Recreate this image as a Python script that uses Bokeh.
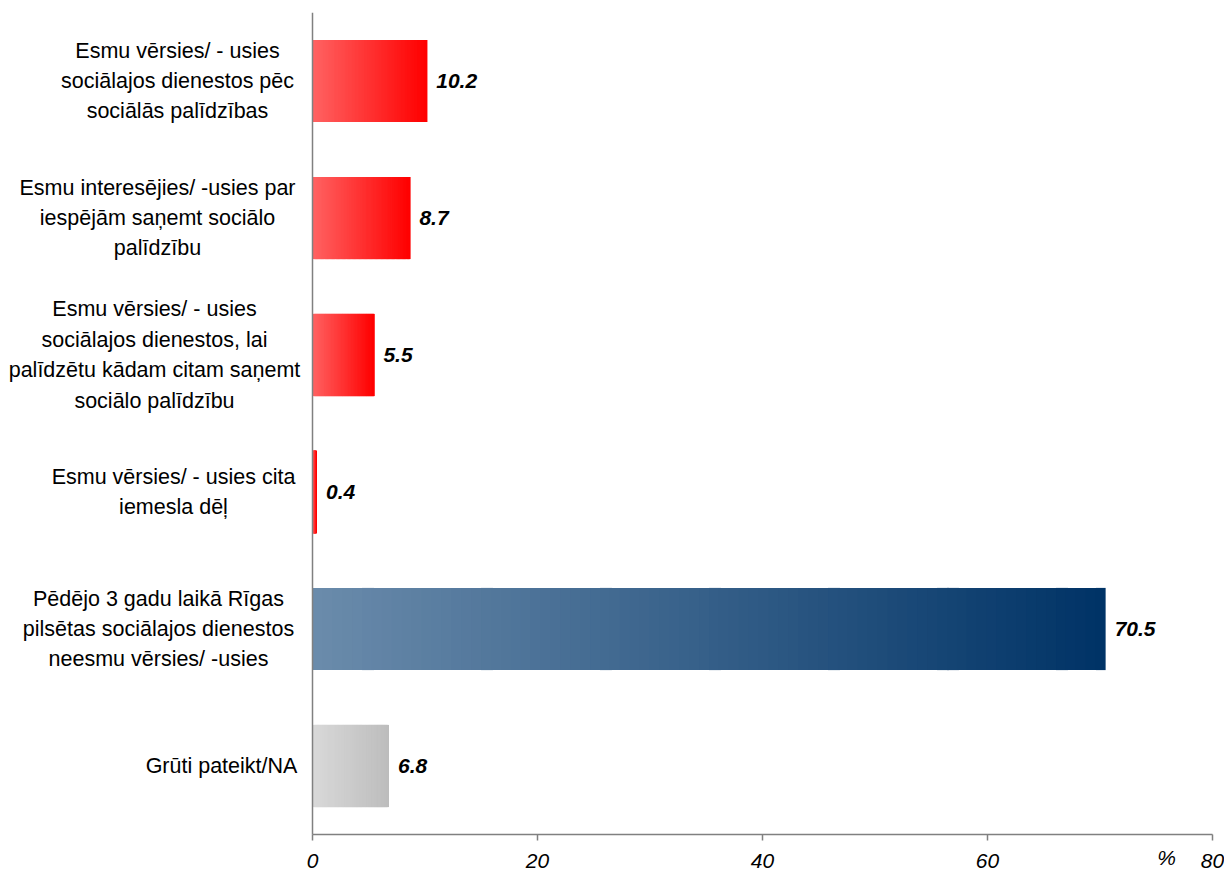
from bokeh.plotting import figure
from bokeh.models import Range1d, ColumnDataSource, FixedTicker
from bokeh.embed import file_html
from bokeh.resources import INLINE
from bokeh.core.properties import value

# ---- data ----
categories = [
    "Esmu vērsies/ - usies\nsociālajos dienestos pēc\nsociālās palīdzības",
    "Esmu interesējies/ -usies par\niespējām saņemt sociālo\npalīdzību",
    "Esmu vērsies/ - usies\nsociālajos dienestos, lai\npalīdzētu kādam citam saņemt\nsociālo palīdzību",
    "Esmu vērsies/ - usies cita\niemesla dēļ",
    "Pēdējo 3 gadu laikā Rīgas\npilsētas sociālajos dienestos\nneesmu vērsies/ -usies",
    "Grūti pateikt/NA",
]
values = [10.2, 8.7, 5.5, 0.4, 70.5, 6.8]
x_ticks = [0, 20, 40, 60, 80]
unit_label = "%"

# ---- styles / layout ----
FONT = "Liberation Sans"
grad_start = ["#FF6262", "#FF6262", "#FF6262", "#FF6262", "#6A8BAB", "#D9D9D9"]
grad_end = ["#FF0000", "#FF0000", "#FF0000", "#FF0000", "#003366", "#BDBDBD"]
label_center_offsets = [135, 155, 158, 139, 154, 91]   # px left of the value axis

W, H = 1224, 873
LEFT_PX, RIGHT_PX, TOP_PX, AXIS_Y_PX = 312, 1212, 12, 834
n = len(categories)
px_per_x = (RIGHT_PX - LEFT_PX) / x_ticks[-1]
px_per_y = (AXIS_Y_PX - TOP_PX) / n


def hex_to_rgb(h):
    h = h.lstrip("#")
    return tuple(int(h[i:i + 2], 16) for i in (0, 2, 4))


def mix(c1, c2, t):
    a, b = hex_to_rgb(c1), hex_to_rgb(c2)
    return "#%02x%02x%02x" % tuple(int(round(a[i] + (b[i] - a[i]) * t)) for i in range(3))


ypos = [n - 1 - i + 0.5 for i in range(n)]

p = figure(
    width=W, height=H,
    x_range=Range1d(-LEFT_PX / px_per_x, x_ticks[-1] + (W - RIGHT_PX) / px_per_x),
    y_range=Range1d(-(H - AXIS_Y_PX) / px_per_y, n),
    output_backend="svg", toolbar_location=None,
    min_border_left=0, min_border_right=0, min_border_top=TOP_PX, min_border_bottom=0,
)
p.outline_line_color = None
p.xgrid.grid_line_color = None
p.ygrid.grid_line_color = None

# gradient bars: thin adjacent slices, each overlapping the next by ~2px to avoid seams
N = 80
eps = 2.0 / px_per_x
ys, lefts, rights, cols = [], [], [], []
for y, v, c1, c2 in zip(ypos, values, grad_start, grad_end):
    for k in range(N):
        t = k / (N - 1)
        ys.append(y)
        lefts.append(v * k / N)
        rights.append(min(v, v * (k + 1) / N + eps))
        cols.append(mix(c1, c2, t))
src = ColumnDataSource(dict(y=ys, left=lefts, right=rights, color=cols))
p.hbar(y="y", left="left", right="right", height=0.6, source=src,
       fill_color="color", line_color=None)

# value labels
lab_src = ColumnDataSource(dict(x=values, y=ypos, t=["%.1f" % v for v in values]))
p.text(x="x", y="y", text="t", source=lab_src, x_offset=9,
       text_baseline="middle", text_align="left",
       text_font=value(FONT), text_font_size="21px", text_font_style="bold italic",
       text_color="#000000")

# category labels
cat_src = ColumnDataSource(dict(x=[0] * n, y=ypos, t=categories,
                                xo=[-o for o in label_center_offsets]))
p.text(x="x", y="y", text="t", source=cat_src, x_offset="xo",
       text_baseline="middle", text_align="center",
       text_font=value(FONT), text_font_size="21.5px", text_line_height=1.27,
       text_color="#000000")

# unit label
p.text(x=[x_ticks[-1]], y=[0], text=[unit_label], x_offset=-46, y_offset=23,
       text_baseline="middle", text_align="center",
       text_font=value(FONT), text_font_size="21px", text_font_style="italic",
       text_color="#000000")

# axes
xa = p.xaxis[0]
xa.fixed_location = 0
xa.bounds = (x_ticks[0], x_ticks[-1])
xa.ticker = FixedTicker(ticks=x_ticks)
xa.axis_line_color = "#808080"
xa.axis_line_width = 1.5
xa.major_tick_line_color = "#808080"
xa.major_tick_line_width = 1.5
xa.major_tick_out = 6
xa.major_tick_in = 0
xa.minor_tick_line_color = None
xa.major_label_standoff = 13
xa.major_label_text_font = FONT
xa.major_label_text_font_size = "21px"
xa.major_label_text_font_style = "italic"
xa.major_label_text_color = "#000000"

ya = p.yaxis[0]
ya.fixed_location = 0
ya.bounds = (0, n)
ya.ticker = FixedTicker(ticks=[])
ya.axis_line_color = "#808080"
ya.axis_line_width = 1.5
ya.major_tick_line_color = None
ya.minor_tick_line_color = None

open("out.html", "w").write(file_html(p, INLINE))
